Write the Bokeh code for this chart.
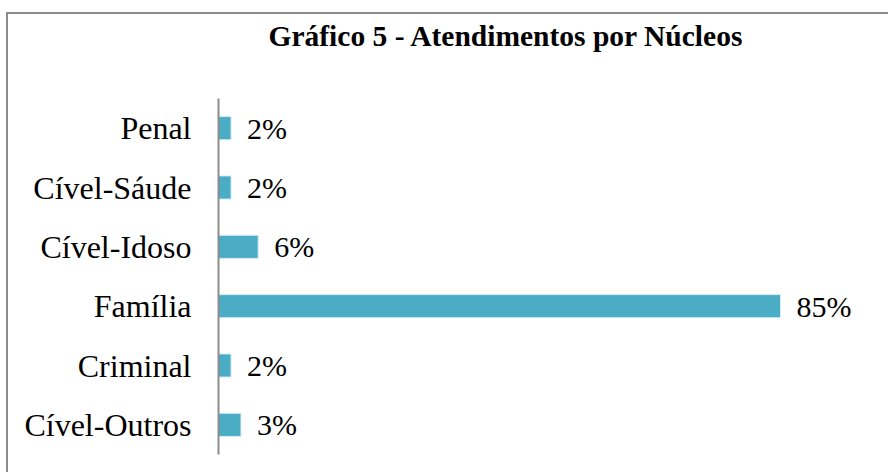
from bokeh.plotting import figure
from bokeh.models import FactorRange, Range1d, ColumnDataSource, LabelSet, Title
from bokeh.core.properties import value
from bokeh.embed import file_html
from bokeh.resources import INLINE

title_text = "Gráfico 5 - Atendimentos por Núcleos"
categories = ["Penal", "Cível-Sáude", "Cível-Idoso", "Família", "Criminal", "Cível-Outros"]
percent = [1.9, 1.9, 6.0, 85.0, 1.9, 3.4]
labels = ["2%", "2%", "6%", "85%", "2%", "3%"]

src = ColumnDataSource(dict(cat=categories, val=percent, lab=labels))

p = figure(width=882, height=460, output_backend="svg", toolbar_location=None,
           x_range=Range1d(0, 98), y_range=FactorRange(*reversed(categories)),
           min_border_left=210, min_border_right=24, min_border_top=84, min_border_bottom=20)
p.styles = {"border-left": "2px solid #8c8c8c", "border-top": "2px solid #8c8c8c",
            "margin-top": "12px", "margin-left": "6px"}

p.hbar(y="cat", right="val", left=0, height=0.39, source=src,
       fill_color="#4bacc6", line_color="#d8eef4", line_width=1)
vals = LabelSet(x="val", y="cat", text="lab", source=src, x_offset=16,
                text_font=value("Liberation Serif"), text_font_size="30px",
                text_baseline="middle", text_align="left", text_color="black")
p.add_layout(vals)

# main title (outermost in the top margin)
p.title.text = title_text
p.title.text_font = "Liberation Serif"
p.title.text_font_style = "bold"
p.title.text_font_size = "29.5px"
p.title.text_color = "black"
p.title.align = "left"
p.title.offset = 50
p.title.standoff = 0
p.title.vertical_align = "bottom"

# blank spacer between the frame and the title
spacer = Title(text=" ", text_font_size="10px", standoff=34)
p.add_layout(spacer, "above")

p.xaxis.visible = False
p.xgrid.visible = False
p.ygrid.visible = False
p.outline_line_color = None

ax = p.yaxis[0]
ax.axis_line_color = "#8c8c8c"
ax.axis_line_width = 2
ax.major_tick_line_color = None
ax.minor_tick_line_color = None
ax.major_label_text_font = "Liberation Serif"
ax.major_label_text_font_size = "32px"
ax.major_label_text_color = "black"
ax.major_label_standoff = 21

open("out.html", "w").write(file_html(p, INLINE))
